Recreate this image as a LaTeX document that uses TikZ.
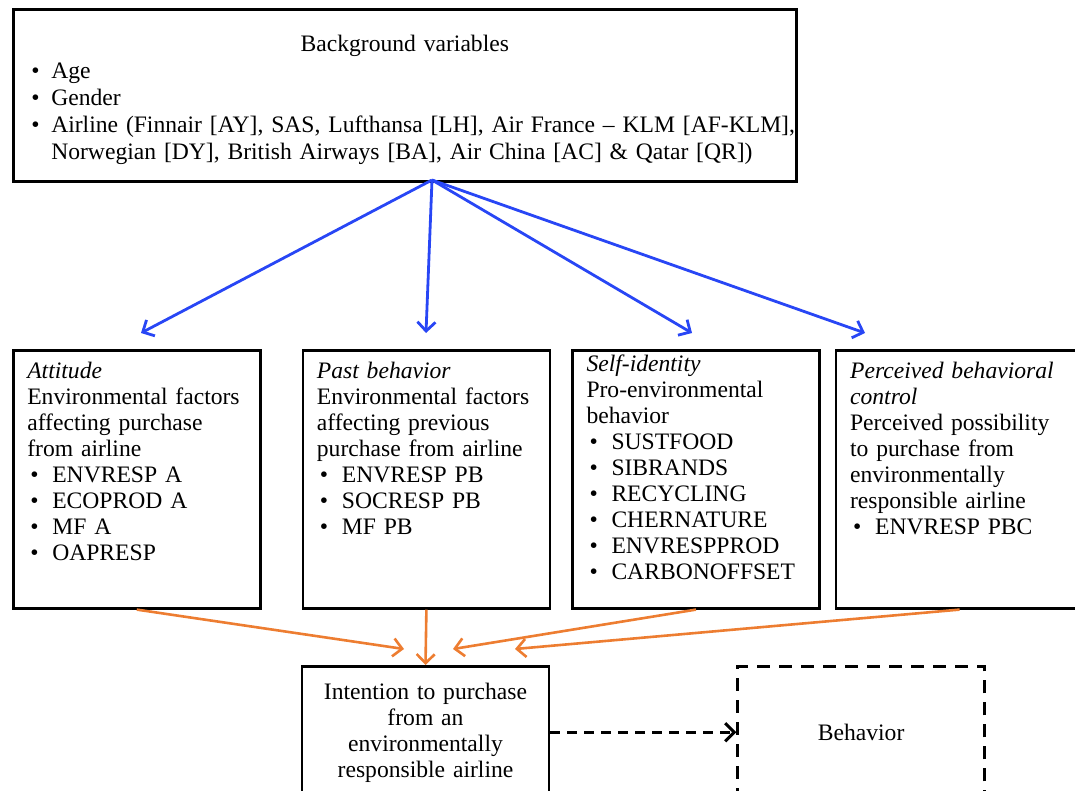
\documentclass[tikz,border=0pt]{standalone}
\usepackage{fontspec}
\setmainfont{Liberation Serif}
\usepackage{xcolor}
\usetikzlibrary{arrows.meta, positioning}

\definecolor{arrblue}{RGB}{40,70,245}
\definecolor{arrorange}{RGB}{237,125,49}
\newcommand{\itm}[1]{\hspace*{1.5pt}\makebox[11pt][l]{\textbullet}#1}
\newcommand{\bgitm}[1]{\makebox[10pt][l]{\textbullet}#1}

\begin{document}
\begin{tikzpicture}[x=0.5pt, y=-0.5pt, >={Straight Barb[length=4.5pt,width=9pt]},
        every node/.style={font=\fontsize{11.8}{13}\selectfont},
        frame/.style={draw, line width=1.3pt, inner xsep=7pt, inner ysep=4pt},
        factor/.style={frame, align=left, text width=109.5pt, text height=10pt, text depth=111pt}]
    \useasboundingbox (0,0) rectangle (1075,791);

    \node[frame, anchor=north west, align=left, inner xsep=9pt, text width=373.5pt,
          text height=17pt, text depth=61pt, font=\fontsize{11.8}{13.5}\selectfont] (bg) at (12,8)
        {\makebox[\hsize]{Background variables}\\
         \bgitm{Age}\\
         \bgitm{Gender}\\
         \bgitm{\mbox{Airline (Finnair [AY], SAS, Lufthansa [LH], Air France -- KLM [AF-KLM],}}\\
         \hspace*{10pt}\mbox{Norwegian [DY], British Airways [BA], Air China [AC] \& Qatar [QR])}};
%
    \node[factor, anchor=north west] (att) at (12,349)
        {\textit{Attitude}\\ Environmental factors\\ affecting purchase\\ from airline\\
         \itm{ENVRESP A}\\ \itm{ECOPROD A}\\ \itm{MF A}\\ \itm{OAPRESP}};
    \node[factor, right=20pt of att] (pb)
        {\textit{Past behavior}\\ Environmental factors\\ affecting previous\\ \mbox{purchase from airline}\\
         \itm{ENVRESP PB}\\ \itm{SOCRESP PB}\\ \itm{MF PB}};
    \node[factor, right=10pt of pb, text height=6.5pt, text depth=114.5pt] (si)
        {\textit{Self-identity}\\ Pro-environmental\\ behavior\\
         \itm{SUSTFOOD}\\ \itm{SIBRANDS}\\ \itm{RECYCLING}\\ \itm{CHERNATURE}\\
         \itm{ENVRESPPROD}\\ \itm{CARBONOFFSET}};
    \node[factor, right=7pt of si] (pbc)
        {\textit{Perceived behavioral}\\ \textit{control}\\ Perceived possibility\\ to purchase from\\
         environmentally\\ responsible airline\\ \itm{ENVRESP PBC}};
%
    \node[frame, anchor=north, align=center, text width=109.5pt, text height=12.5pt, text depth=45.5pt] (int) at (425.5,665)
        {Intention to purchase\\ from an\\ environmentally\\ responsible airline};
    \node[frame, dash pattern=on 6.5pt off 4.5pt, minimum width=123.5pt, minimum height=66pt, right=93pt of int] (beh) {Behavior};
%
    \coordinate (top) at (432,180);
    \path (141,333) coordinate (b1) (426,333) coordinate (b2)
          (692,333) coordinate (b3) (865,333) coordinate (b4);
    \path (404,649) coordinate (o1) (453,649) coordinate (o3) (515,649) coordinate (o4);

    \path[->, arrblue, line width=1.4pt]
        (top) edge (b1)
              edge (b2)
              edge (b3)
              edge (b4);
    \path[->, arrorange, line width=1.3pt]
        (att.south) edge (o1)
        (pb.south)  edge (int.north)
        (si.south)  edge (o3)
        (pbc.south) edge (o4);
    \draw[->, line width=1.5pt, dash pattern=on 5pt off 3.5pt] (int) -- (beh);
\end{tikzpicture}
\end{document}
